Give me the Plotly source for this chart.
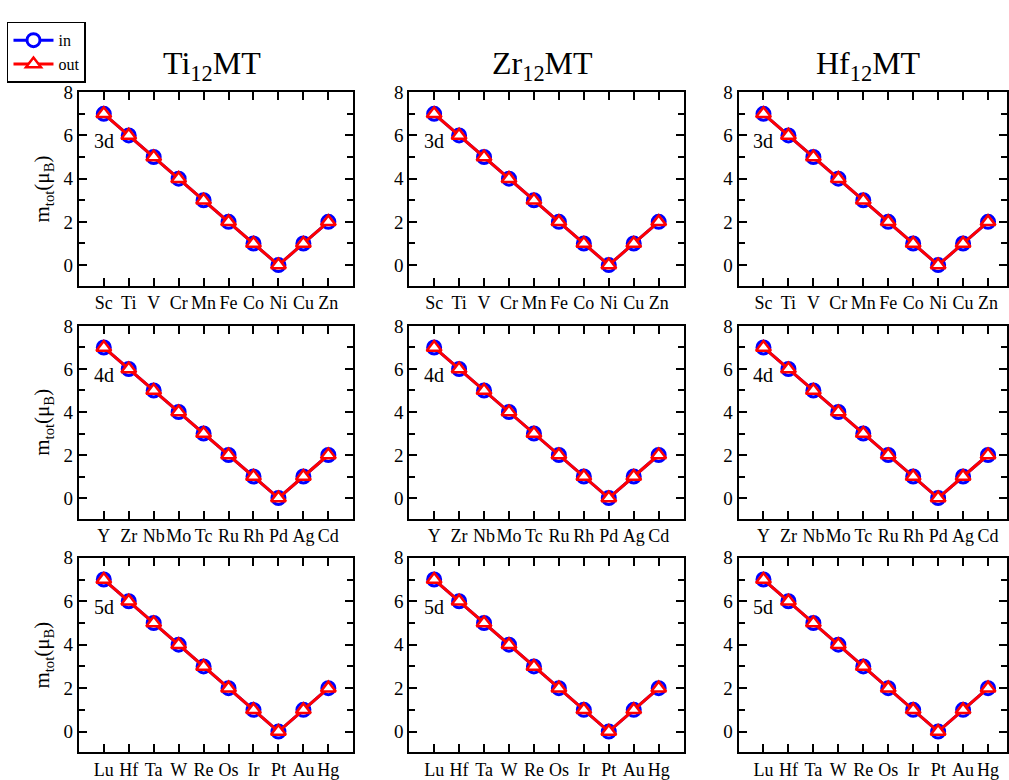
import plotly.graph_objects as go

# Host compounds (columns) and transition-metal rows
hosts = ["Ti<sub>12</sub>MT", "Zr<sub>12</sub>MT", "Hf<sub>12</sub>MT"]
row_tags = ["3d", "4d", "5d"]
elements_3d = ["Sc", "Ti", "V", "Cr", "Mn", "Fe", "Co", "Ni", "Cu", "Zn"]
elements_4d = ["Y", "Zr", "Nb", "Mo", "Tc", "Ru", "Rh", "Pd", "Ag", "Cd"]
elements_5d = ["Lu", "Hf", "Ta", "W", "Re", "Os", "Ir", "Pt", "Au", "Hg"]
row_elements = [elements_3d, elements_4d, elements_5d]

# Total moment (mu_B) for M at the "in" and "out" sites
m_in = [7, 6, 5, 4, 3, 2, 1, 0, 1, 2]
m_out = [7, 6, 5, 4, 3, 2, 1, 0, 1, 2]

W, H = 1009, 780
col_px = [(79, 354), (410, 685), (740, 1009)]
row_px = [(84, 282), (323, 520), (560, 759)]

FONT = "Liberation Serif"
fig = go.Figure()
layout = dict(
    width=W, height=H,
    margin=dict(l=0, r=0, t=0, b=0),
    paper_bgcolor="white", plot_bgcolor="white",
    font=dict(family=FONT, color="black", size=18),
    showlegend=True,
)
annotations = []

k = 0
for r in range(3):
    for c in range(3):
        k += 1
        sfx = "" if k == 1 else str(k)
        xa, ya = "x" + sfx, "y" + sfx
        x0, x1 = col_px[c]
        y0, y1 = row_px[r]
        elems = row_elements[r]
        xmax = -1 + (x1 - x0) / 25.0
        layout["xaxis" + sfx] = dict(
            domain=[x0 / W, x1 / W], anchor=ya,
            type="category", categoryorder="array", categoryarray=elems,
            range=[-1, xmax], tickangle=0,
            showgrid=False, zeroline=False,
            showline=True, linecolor="black", linewidth=2, mirror="ticks",
            ticks="inside", ticklen=8, tickwidth=1.5, tickcolor="black",
            tickfont=dict(family=FONT, size=18),
        )
        layout["yaxis" + sfx] = dict(
            domain=[1 - y1 / H, 1 - y0 / H], anchor=xa,
            range=[-0.96, 8], tickvals=[0, 2, 4, 6, 8],
            showgrid=False, zeroline=False,
            showline=True, linecolor="black", linewidth=2, mirror="ticks",
            ticks="inside", ticklen=8, tickwidth=1.5, tickcolor="black",
            minor=dict(dtick=1, tick0=0, ticks="inside", ticklen=6,
                       tickwidth=1.5, tickcolor="black", showgrid=False),
            tickfont=dict(family=FONT, size=19),
        )
        if c == 0:
            layout["yaxis" + sfx]["title"] = dict(
                text="m<sub>tot</sub>(\u03bc<sub>B</sub>)",
                font=dict(family=FONT, size=21), standoff=8)

        fig.add_trace(go.Scatter(
            x=elems, y=m_in, xaxis=xa, yaxis=ya, name="in",
            mode="lines+markers", showlegend=(k == 1),
            line=dict(color="blue", width=3),
            marker=dict(symbol="circle", size=13, color="white",
                        line=dict(color="blue", width=3)),
        ))
        fig.add_trace(go.Scatter(
            x=elems, y=m_out, xaxis=xa, yaxis=ya, name="out",
            mode="lines+markers", showlegend=(k == 1),
            line=dict(color="red", width=3),
            marker=dict(symbol="triangle-up", size=13, color="white",
                        line=dict(color="red", width=2.5)),
        ))
        annotations.append(dict(
            x=elems[0], y=5.72, xref=xa, yref=ya, text=row_tags[r],
            showarrow=False, font=dict(family=FONT, size=20),
            xanchor="center", yanchor="middle",
        ))

# Column titles
for c in range(3):
    x0, x1 = col_px[c]
    annotations.append(dict(
        x=(x0 + x1) / 2 / W - 0.004, y=1 - 80 / H, xref="paper", yref="paper",
        text=hosts[c], showarrow=False, font=dict(family=FONT, size=32),
        xanchor="center", yanchor="bottom",
    ))

layout["annotations"] = annotations
layout["legend"] = dict(
    x=7 / W, y=1 - 12 / H, xanchor="left", yanchor="top",
    bordercolor="black", borderwidth=1.5, bgcolor="white",
    font=dict(family=FONT, size=16), itemwidth=40,
    tracegroupgap=0, traceorder="normal", itemsizing="trace",
)
fig.update_layout(**layout)
fig.write_html("out.html")
